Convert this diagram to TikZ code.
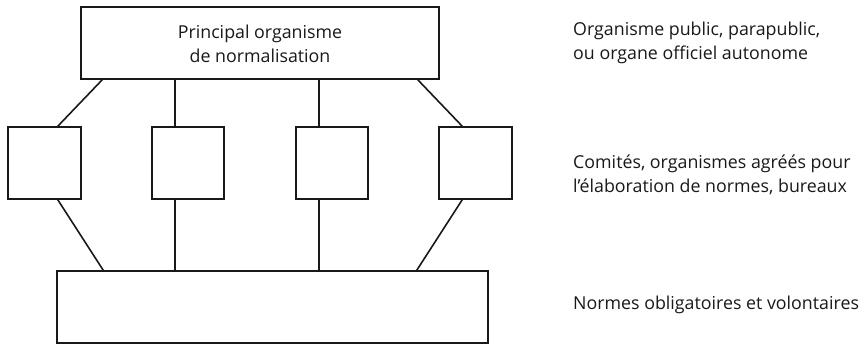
\documentclass[tikz,border=0pt]{standalone}
\usepackage{fontspec}
\setmainfont{Open Sans}
\begin{document}
\begin{tikzpicture}[x=1pt,y=-1pt,
  box/.style={draw=black!90,line width=1.6pt,fill=white,inner sep=0pt},
  conn/.style={draw=black!90,line width=1.6pt},
  txt/.style={font=\fontsize{17.8}{24.5}\selectfont,inner sep=0pt,text=black!90},
  lbl/.style={txt,anchor=base west,align=left}]
\useasboundingbox (0,0) rectangle (866,344);
\node[box,minimum width=358pt,minimum height=72pt] (top) at (260,43) {};
\node[txt,anchor=base,align=center] (toptext) at (260,63) {Principal organisme\\de normalisation};
\node[box,minimum width=73pt,minimum height=72pt] (m1) at (44.5,163) {};
\node[box,minimum width=72pt,minimum height=72pt] (m2) at (188,163) {};
\node[box,minimum width=72pt,minimum height=72pt] (m3) at (332,163) {};
\node[box,minimum width=73pt,minimum height=72pt] (m4) at (475.5,163) {};
\node[box,minimum width=431pt,minimum height=72pt] (bot) at (272.5,307) {};
% connectors
\draw[conn] ([xshift=22pt]top.south west) -- ([xshift=-24pt]m1.north east);
\draw[conn] ([xshift=24pt]m2.north west |- top.south) -- ([xshift=24pt]m2.north west);
\draw[conn] ([xshift=24pt]m3.north west |- top.south) -- ([xshift=24pt]m3.north west);
\draw[conn] ([xshift=-22pt]top.south east) -- ([xshift=24pt]m4.north west);
\draw[conn] ([xshift=-24pt]m1.south east) -- ([xshift=47pt]bot.north west);
\draw[conn] ([xshift=24pt]m2.south west) -- ([xshift=24pt]m2.south west |- bot.north);
\draw[conn] ([xshift=24pt]m3.south west) -- ([xshift=24pt]m3.south west |- bot.north);
\draw[conn] ([xshift=24pt]m4.south west) -- ([xshift=-72pt]bot.north east);
% labels
\node[lbl] (l1) at (573,60) {Organisme public, parapublic,\\ou organe officiel autonome};
\node[lbl] (l2) at (573,193) {Comités, organismes agréés pour\\l’élaboration de normes, bureaux};
\node[lbl] (l3) at (573,309) {Normes obligatoires et volontaires};
\end{tikzpicture}
\end{document}
